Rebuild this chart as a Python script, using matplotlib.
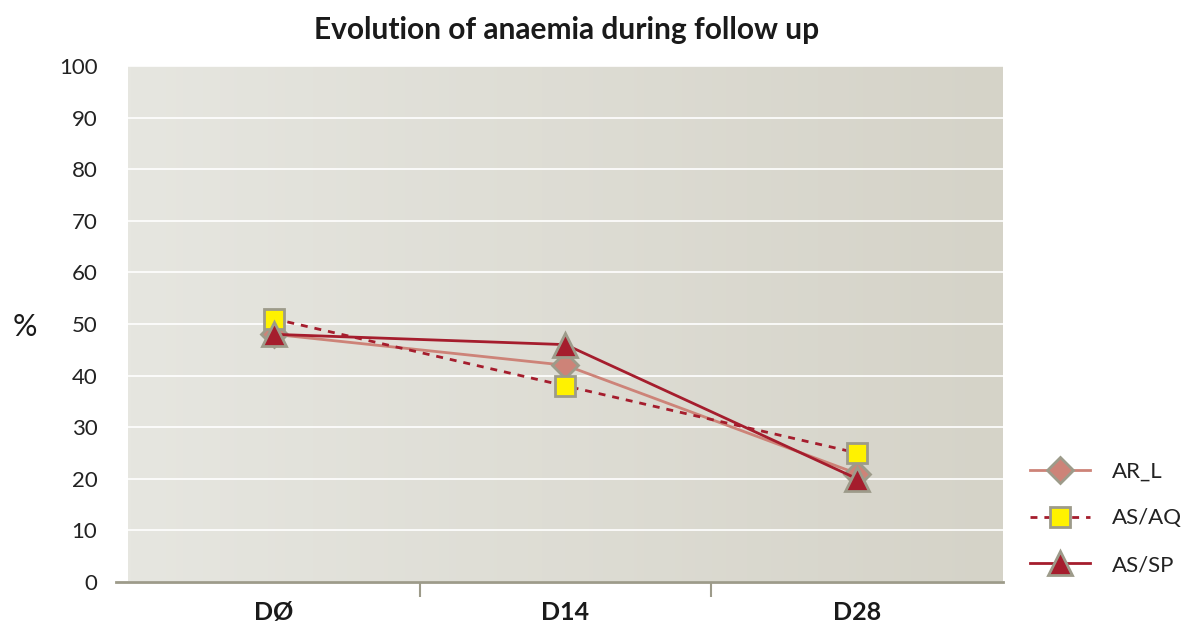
import matplotlib.pyplot as plt
import numpy as np
from matplotlib.lines import Line2D
from matplotlib.colors import LinearSegmentedColormap

days = ['DØ', 'D14', 'D28']
ar_l = [48, 42, 21]
as_aq = [51, 38, 25]
as_sp = [48, 46, 20]

plt.rcParams['font.family'] = ['Lato', 'DejaVu Sans']

edge = '#9d9b8a'
dark_red = '#a51d2d'
salmon = '#cd8378'

fig = plt.figure(figsize=(11.95, 6.31), dpi=100)
ax = fig.add_axes([0.1071, 0.0777, 0.7322, 0.8177])

# soft left-to-right background gradient
bg = LinearSegmentedColormap.from_list('bg', ['#e6e6e0', '#d5d3c8'])
ax.imshow(np.linspace(0, 1, 256).reshape(1, -1), cmap=bg, aspect='auto',
          extent=[0, 1, 0, 1], transform=ax.transAxes, zorder=0)

x = np.arange(len(days))
ax.plot(x, ar_l, color=salmon, lw=2, marker='D', ms=13, mfc=salmon,
        mec=edge, mew=2, zorder=3, label='AR_L')
ax.plot(x, as_aq, color=dark_red, lw=2, ls=(0, (2.5, 2.5)), marker='s', ms=15,
        mfc='#fff200', mec=edge, mew=2, zorder=4, label='AS/AQ')
ax.plot(x, as_sp, color=dark_red, lw=2, marker='^', ms=17, mfc=dark_red,
        mec=edge, mew=2, zorder=5, label='AS/SP')

ax.set_xlim(-0.5, 2.5)
ax.set_ylim(0, 100)
ax.set_yticks(range(0, 101, 10))
ax.yaxis.grid(True, color='white', lw=1.2)
ax.set_axisbelow(True)
for sp in ax.spines.values():
    sp.set_visible(False)

ax.tick_params(axis='y', length=0, pad=22, labelsize=16, labelcolor='#222222')
ax.set_xticks(x)
ax.set_xticklabels(days, fontsize=18, fontweight='bold', color='#1a1a1a')
ax.tick_params(axis='x', which='major', length=0, pad=14)
ax.set_xticks([0.5, 1.5], minor=True)
ax.tick_params(axis='x', which='minor', length=11, width=1.5, color=edge, direction='out')

# baseline running a little past the left edge
ax.add_line(Line2D([-0.014, 1], [0, 0], transform=ax.transAxes, color=edge,
                   lw=2, clip_on=False, zorder=6))

fig.text(0.474, 0.952, 'Evolution of anaemia during follow up', ha='center',
         va='center', fontsize=21.5, fontweight='bold', color='#1a1a1a')
fig.text(0.021, 0.482, '%', ha='center', va='center', fontsize=22, color='#1a1a1a')

fig.legend(loc='upper left', bbox_to_anchor=(0.845, 0.3), frameon=False,
           fontsize=16, handlelength=2.7, handletextpad=1.0, labelspacing=1.2,
           labelcolor='#222222')

fig.savefig('out.png', dpi=100)
